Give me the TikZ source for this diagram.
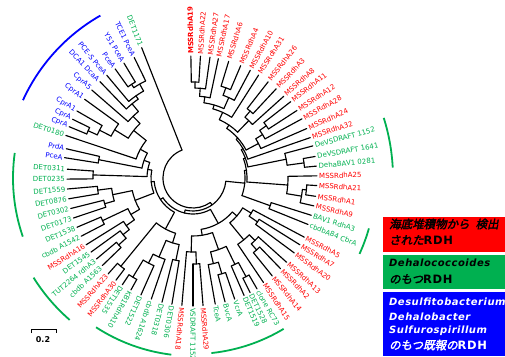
\documentclass[tikz,border=0pt]{standalone}
\usepackage{fontspec}
\newfontfamily\lblf{DejaVu Sans}
\newfontfamily\jp{Noto Sans CJK JP}[FakeSlant=0.2,FakeBold=2.5]
\newfontfamily\legl{DejaVu Sans}[LetterSpace=5]
\definecolor{rr}{RGB}{255,0,0}
\definecolor{gg}{RGB}{0,176,80}
\definecolor{bb}{RGB}{0,0,255}
\tikzset{
  br/.style={line width=1.15pt,line cap=round},
  lbl/.style={font={\lblf\fontsize{7pt}{8pt}\selectfont},inner sep=0pt},
  clade/.style={line width=1.8pt},
  legtxt/.style={inner sep=0pt,anchor=west,font={\jp\fontsize{11.5pt}{13pt}\selectfont}},
  legtxtl/.style={inner sep=0pt,anchor=west,font={\legl\bfseries\itshape\fontsize{10pt}{12pt}\selectfont}}
}
\def\tr{124}
% leaf reading outward: id, angle, colour, text, parent radius
\newcommand\LO[5]{%
  \coordinate (t#1) at (#2:\tr pt);
  \node[lbl,text=#3,anchor=west,rotate=#2] (#1) at (#2:\tr pt+2pt) {#4};
  \draw[br] (t#1) -- (#2:#5pt);}
% leaf reading inward
\newcommand\LI[5]{%
  \coordinate (t#1) at (#2:\tr pt);
  \node[lbl,text=#3,anchor=east,rotate=#2-180] (#1) at (#2:\tr pt+2pt) {#4};
  \draw[br] (t#1) -- (#2:#5pt);}
% clade: radius, a1, a2, mid, parent radius
\newcommand\Cl[5]{%
  \draw[br] (#2:#1pt) arc[start angle=#2,end angle=#3,radius=#1pt];
  \draw[br] (#4:#1pt) -- (#4:#5pt);}
\begin{document}
\begin{tikzpicture}[x=1pt,y=1pt]
\useasboundingbox (-193,-178) rectangle (312,178);
% ---------- leaves ----------
\def\tr{122}
\LO{l1}{91}{rr}{\bfseries MSSRdhA19}{96}
\LO{l2}{86.5}{rr}{MSSRdhA22}{96}
\LO{l3}{82}{rr}{MSSRdhA27}{90}
\LO{l4}{78}{rr}{MSSRdhA17}{82}
\LO{l5}{73}{rr}{MSSRdhA6}{96}
\LO{l6}{67}{rr}{MSSRdhA4}{96}
\LO{l7}{62}{rr}{MSSRdhA10}{88}
\LO{l8}{57.5}{rr}{MSSRdhA31}{72}
\LO{l9}{52}{rr}{MSSRdhA26}{88}
\LO{l10}{47}{rr}{MSSRdhA3}{88}
\LO{l11}{42}{rr}{MSSRdhA8}{80}
\def\tr{124}
\LO{l12}{38}{rr}{MSSRdhA11}{90}
\LO{l13}{33}{rr}{MSSRdhA12}{90}
\LO{l14}{28.5}{rr}{MSSRdhA28}{82}
\LO{l15}{23.5}{rr}{MSSRdhA24}{74}
\LO{l16}{19}{rr}{MSSRdhA32}{58}
\LO{l17}{15}{gg}{DeVSDRAFT 1152}{95}
\LO{l18}{10}{gg}{DeVSDRAFT 1641}{112}
\LO{l19}{5.5}{gg}{DehaBAV1 0281}{112}
\LO{l20}{1}{rr}{MSSRdhA25}{95}
\LO{l21}{-3.5}{rr}{MSSRdhA21}{114}
\LO{l22}{-8.5}{rr}{MSSRdhA1}{114}
\LO{l23}{-13}{rr}{MSSRdhA9}{110}
\LO{l24}{-17.5}{gg}{BAV1 RdhA3}{82}
\LO{l25}{-22}{gg}{cbdbA84 CbrA}{82}
\def\tr{126}
\LO{l26}{-28}{rr}{MSSRdhA5}{68}
\LO{l27}{-32}{rr}{MSSRdhA7}{78}
\LO{l28}{-36.5}{rr}{MSSRdhA20}{78}
\LO{l29}{-42}{rr}{MSSRdhA13}{88}
\LO{l30}{-46}{rr}{MSSRdhA2}{96}
\LO{l31}{-51}{rr}{MSSRdhA14}{96}
\LO{l32}{-56}{rr}{MSSRdhA15}{80}
\def\tr{128}
\LO{l33}{-60}{gg}{clone RC73}{112}
\LO{l34}{-63.5}{gg}{DET1528}{112}
\LO{l35}{-66.5}{gg}{DET1519}{96}
\LO{l36}{-71}{gg}{VcrA}{100}
\LO{l37}{-75.5}{gg}{BvcA}{100}
\LO{l38}{-80}{gg}{TceA}{88}
\LO{l39}{-85.5}{rr}{MSSRdhA29}{86}
\LO{l40}{-90}{gg}{VSDRAFT 1152}{86}
\LO{l41}{-95}{rr}{MSSRdhA18}{74}
\LO{l42}{-99.5}{gg}{DET0306}{84}
\LO{l43}{-104}{gg}{DET0318}{84}
\LO{l44}{-109}{gg}{cbdb A1624}{86}
\LO{l45}{-114}{gg}{DET1522}{96}
\LO{l46}{-119}{gg}{KB1RdhA10}{116}
\LO{l47}{-123.5}{gg}{DET1535}{116}
\LI{l48}{233}{rr}{MSSRdhA30}{114}
\LI{l49}{228.5}{rr}{MSSRdhA23}{114}
\def\tr{126}
\LI{l50}{224}{gg}{cbdb A1563}{100}
\LI{l51}{220}{gg}{TUT2264 rdhA3}{100}
\LI{l52}{216}{gg}{DET1545}{90}
\LI{l53}{212}{rr}{MSSRdhA16}{82}
\LI{l54}{207.5}{gg}{cbdb A1542}{100}
\LI{l55}{203}{gg}{DET1538}{100}
\LI{l56}{198.5}{gg}{DET0173}{92}
\LI{l57}{194}{gg}{DET0302}{92}
\LI{l58}{189.5}{gg}{DET0876}{96}
\LI{l59}{185}{gg}{DET1559}{96}
\LI{l60}{180.5}{gg}{DET0235}{100}
\LI{l61}{176}{gg}{DET0311}{100}
\def\tr{130}
\LI{l62}{171}{bb}{PceA}{96}
\LI{l63}{167}{bb}{PrdA}{96}
\def\tr{134}
\LI{l64}{161.5}{gg}{DET0180}{60}
\LI{l65}{157.5}{bb}{CprA}{115}
\LI{l66}{154}{bb}{CprA}{115}
\LI{l67}{150}{bb}{CprA1}{105}
\LI{l68}{144}{bb}{CprA1}{92}
\LI{l69}{139}{bb}{CprA5}{86}
\LI{l70}{134}{bb}{DCA1 DcaA}{96}
\LI{l71}{130}{bb}{PCE-S PceA}{100}
\LI{l72}{125.5}{bb}{PceA}{112}
\LI{l73}{121}{bb}{Y51 PceA}{112}
\LI{l74}{116}{bb}{TCE1 PceA}{108}
\def\tr{140}
\LI{l75}{111.5}{gg}{DET1171}{30}
% ---------- internal branches ----------
\Cl{96}{86.5}{91}{88.75}{90}
\Cl{90}{82}{88.75}{85.4}{82}
\Cl{82}{78}{85.4}{81.7}{76}
\Cl{96}{67}{73}{70}{88}
\Cl{88}{62}{70}{66}{76}
\Cl{76}{66}{81.7}{73.9}{72}
\Cl{72}{57.5}{73.9}{65.7}{64}
\Cl{88}{47}{52}{49.5}{80}
\Cl{80}{42}{49.5}{45.8}{64}
\Cl{64}{45.8}{65.7}{55.8}{60}
\Cl{90}{33}{38}{35.5}{82}
\Cl{82}{28.5}{35.5}{32}{74}
\Cl{74}{23.5}{32}{27.8}{60}
\Cl{60}{27.8}{55.8}{41.8}{58}
\Cl{58}{19}{41.8}{30.4}{56}
\Cl{112}{5.5}{10}{7.75}{95}
\Cl{95}{7.75}{15}{11.4}{56}
\Cl{56}{11.4}{30.4}{20.9}{54}
\Cl{114}{-8.5}{-3.5}{-6}{110}
\Cl{110}{-13}{-6}{-9.5}{95}
\Cl{95}{-9.5}{1}{-4.25}{54}
\Cl{54}{-4.25}{20.9}{8.3}{52}
\Cl{82}{-22}{-17.5}{-19.75}{52}
\Cl{52}{-19.75}{8.3}{-5.7}{33}
\Cl{96}{-51}{-46}{-48.5}{88}
\Cl{88}{-48.5}{-42}{-45.25}{80}
\Cl{80}{-56}{-45.25}{-50.6}{58}
\Cl{78}{-36.5}{-32}{-34.25}{68}
\Cl{68}{-34.25}{-28}{-31.1}{58}
\Cl{58}{-50.6}{-31.1}{-40.85}{52}
\Cl{112}{-63.5}{-60}{-61.75}{96}
\Cl{96}{-66.5}{-61.75}{-64.1}{76}
\Cl{100}{-75.5}{-71}{-73.25}{88}
\Cl{88}{-80}{-73.25}{-76.6}{76}
\Cl{76}{-76.6}{-64.1}{-70.35}{58}
\Cl{86}{-90}{-85.5}{-87.75}{74}
\Cl{74}{-95}{-87.75}{-91.4}{58}
\Cl{58}{-91.4}{-70.35}{-80.9}{52}
\Cl{52}{-80.9}{-40.85}{-60.9}{36}
\Cl{84}{-104}{-99.5}{-101.75}{68}
\Cl{116}{-123.5}{-119}{-121.25}{96}
\Cl{96}{-121.25}{-114}{-117.6}{86}
\Cl{86}{-117.6}{-109}{-113.3}{68}
\Cl{68}{-113.3}{-101.75}{-107.5}{58}
\Cl{114}{228.5}{233}{230.75}{58}
\Cl{58}{230.75}{252.5}{241.6}{39}
\Cl{100}{220}{224}{222}{90}
\Cl{90}{216}{222}{219}{82}
\Cl{82}{212}{219}{215.5}{72}
\Cl{100}{203}{207.5}{205.25}{72}
\Cl{72}{205.25}{215.5}{210.4}{62}
\Cl{92}{194}{198.5}{196.25}{82}
\Cl{96}{185}{189.5}{187.25}{82}
\Cl{82}{187.25}{196.25}{191.75}{62}
\Cl{62}{191.75}{210.4}{201.1}{42}
\Cl{100}{176}{180.5}{178.25}{46}
\Cl{96}{167}{171}{169}{52}
\Cl{115}{154}{157.5}{155.75}{105}
\Cl{105}{150}{155.75}{152.9}{92}
\Cl{92}{144}{152.9}{148.4}{76}
\Cl{112}{121}{125.5}{123.25}{108}
\Cl{108}{116}{123.25}{119.6}{100}
\Cl{100}{119.6}{130}{124.8}{96}
\Cl{96}{124.8}{134}{129.4}{86}
\Cl{86}{129.4}{139}{134.2}{76}
\Cl{76}{134.2}{148.4}{141.3}{60}
\Cl{60}{141.3}{161.5}{151.4}{52}
\Cl{52}{151.4}{169}{160.2}{46}
\Cl{46}{160.2}{178.25}{169.2}{42}
\Cl{42}{169.2}{201.1}{185.15}{39}
\Cl{39}{185.15}{241.6}{213.4}{36}
\Cl{36}{213.4}{299.1}{256.25}{33}
\Cl{33}{256.25}{354.3}{305.3}{30}
\draw[br] (111.5:30pt) arc[start angle=111.5,end angle=305.3,radius=30pt];
% ---------- clade brackets ----------
\draw[clade,bb] (119.7:187pt) arc[start angle=119.7,end angle=155.4,radius=187pt];
\draw[clade,gg] (172:180pt) arc[start angle=172,end angle=199,radius=180pt];
\draw[clade,gg] (212:188pt) arc[start angle=212,end angle=229,radius=188pt];
\draw[clade,gg] (237:178pt) arc[start angle=237,end angle=263,radius=178pt];
\draw[clade,gg] (-84:176pt) arc[start angle=-84,end angle=-59,radius=176pt];
\draw[clade,gg] (3:200pt) arc[start angle=3,end angle=17.5,radius=200pt];
\draw[clade,gg] (-24.5:183pt) arc[start angle=-24.5,end angle=-16,radius=183pt];
% ---------- scale bar ----------
\coordinate (s1) at (-161,-151);
\coordinate (s2) at (-136,-151);
\draw[line width=1pt] ([yshift=-4pt]s1) -- (s1) -- (s2) -- ([yshift=-4pt]s2);
\node[inner sep=0pt,font={\lblf\bfseries\fontsize{8pt}{9pt}\selectfont}] (sc) at (-150,-162) {0.2};
% ---------- legend ----------
\fill[rr] (190,-39) rectangle (312,-74);
\fill[gg] (190,-77) rectangle (312,-111);
\fill[bb] (190,-114) rectangle (312,-178);
\node[legtxt] (r1) at (196,-46) {海底堆積物から\hspace{6pt}検出};
\node[legtxt] (r2) at (196,-62) {された{\legl\bfseries RDH}};
\node[legtxtl] (g1) at (196,-85) {Dehalococcoides};
\node[legtxt] (g2) at (196,-101) {のもつ{\legl\bfseries RDH}};
\node[legtxtl,text=white] (b1) at (196,-124) {Desulfitobacterium};
\node[legtxtl,text=white] (b2) at (196,-139) {Dehalobacter};
\node[legtxtl,text=white] (b3) at (196,-153) {Sulfurospirillum};
\node[legtxt,text=white] (b4) at (196,-167) {のもつ既報の{\legl\bfseries RDH}};
\end{tikzpicture}
\end{document}
